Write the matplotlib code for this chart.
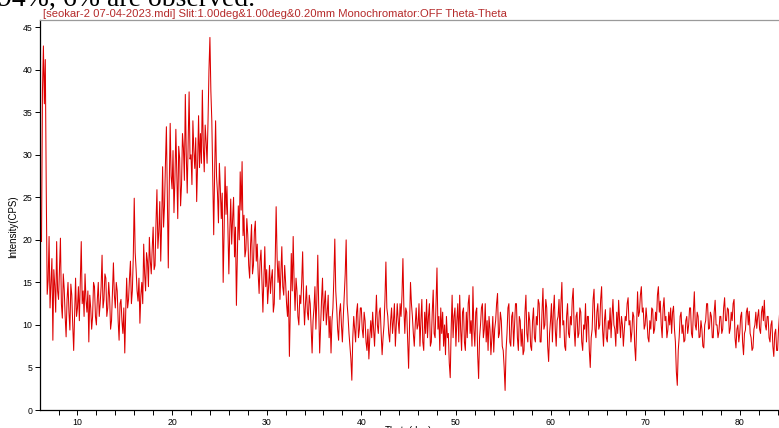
import numpy as np
import matplotlib
matplotlib.use("Agg")
import matplotlib.pyplot as plt
from matplotlib.ticker import MultipleLocator

# ---- data, one row per degree, 0.1 deg step ----
theta_start = 6.0
theta_step = 0.1
intensity = [
    21.8, 20.5, 19.8, 37.5, 42.8, 36.0, 41.2, 26.0, 13.6, 15.2,   # 6
    20.4, 12.0, 15.0, 17.8, 8.2, 16.5, 14.6, 11.5, 19.8, 14.0,    # 7
    13.0, 16.5, 20.2, 12.5, 10.8, 16.0, 14.2, 11.0, 8.6, 13.0,    # 8
    15.0, 11.5, 9.4, 14.8, 13.5, 10.0, 7.0, 11.5, 15.5, 11.0,     # 9
    12.0, 14.5, 10.5, 15.0, 19.8, 12.5, 14.0, 11.0, 16.0, 13.0,   # 10
    11.5, 14.0, 8.0, 13.5, 12.0, 9.5, 11.0, 15.0, 14.5, 11.0,     # 11
    10.0, 13.0, 15.0, 11.0, 12.5, 14.5, 18.2, 12.0, 13.0, 16.0,   # 12
    15.5, 11.0, 12.0, 15.0, 13.2, 9.5, 10.5, 14.0, 17.3, 13.5,    # 13
    12.0, 15.0, 14.0, 10.5, 8.2, 12.5, 13.0, 10.5, 9.0, 12.0,     # 14
    6.7, 11.5, 15.5, 12.0, 13.0, 15.5, 17.5, 12.5, 14.0, 18.0,    # 15
    24.9, 18.5, 16.5, 14.0, 12.8, 15.5, 10.2, 13.5, 15.0, 12.5,   # 16
    19.5, 16.0, 14.0, 18.5, 17.5, 14.5, 20.3, 17.5, 16.0, 19.0,   # 17
    21.5, 16.5, 17.0, 22.0, 25.9, 19.0, 21.0, 24.5, 17.5, 22.0,   # 18
    28.6, 21.5, 24.0, 29.0, 33.3, 25.0, 16.7, 26.0, 33.7, 27.5,   # 19
    26.0, 30.5, 23.2, 27.0, 33.0, 27.5, 22.5, 31.0, 29.6, 24.0,   # 20
    26.5, 32.5, 30.8, 27.0, 37.1, 30.0, 25.5, 31.5, 37.4, 29.5,   # 21
    30.0, 26.5, 34.0, 30.5, 28.4, 32.0, 24.5, 29.0, 34.6, 28.5,   # 22
    32.5, 29.0, 37.6, 31.0, 28.0, 33.5, 31.5, 29.0, 34.0, 40.0,   # 23
    43.8, 37.5, 34.0, 27.0, 20.6, 28.0, 34.0, 27.5, 25.5, 22.0,   # 24
    29.0, 26.0, 22.5, 25.5, 15.0, 21.0, 28.6, 23.0, 26.3, 21.5,   # 25
    16.0, 21.0, 24.8, 19.5, 22.5, 25.0, 18.0, 21.5, 12.3, 18.5,   # 26
    24.0, 20.0, 28.0, 23.5, 29.2, 20.5, 22.9, 18.0, 18.8, 22.5,   # 27
    20.6, 17.0, 15.5, 19.5, 21.8, 16.0, 17.0, 21.0, 22.2, 17.5,   # 28
    19.5, 16.0, 13.7, 17.5, 18.8, 15.0, 11.5, 15.5, 19.2, 14.5,   # 29
    16.5, 12.5, 14.5, 17.0, 13.7, 15.5, 16.5, 11.5, 12.5, 17.5,   # 30
    23.9, 18.0, 15.0, 17.5, 13.0, 16.0, 19.2, 14.5, 13.5, 17.0,   # 31
    15.0, 12.5, 11.0, 14.0, 6.3, 12.0, 18.4, 14.0, 20.4, 15.0,    # 32
    11.7, 15.5, 14.0, 11.0, 10.0, 13.5, 12.5, 15.0, 18.6, 13.0,   # 33
    10.0, 12.5, 14.6, 11.5, 10.6, 13.5, 12.5, 9.5, 6.7, 10.5,     # 34
    12.0, 14.5, 9.5, 13.0, 18.2, 12.0, 6.7, 10.0, 13.0, 15.5,     # 35
    10.5, 12.5, 14.0, 10.0, 11.5, 13.5, 8.5, 11.0, 6.7, 10.5,     # 36
    12.0, 15.5, 20.1, 14.0, 12.0, 9.5, 8.2, 11.5, 12.5, 10.0,     # 37
    8.0, 11.0, 13.5, 16.0, 20.0, 12.5, 11.0, 9.0, 7.5, 6.0,       # 38
    3.5, 8.5, 11.0, 9.5, 8.0, 11.5, 12.5, 8.5, 9.5, 12.0,         # 39
    12.0, 9.5, 8.5, 11.5, 10.5, 8.0, 7.0, 9.5, 6.0, 8.5,          # 40
    10.5, 8.5, 11.5, 9.5, 7.5, 10.5, 13.5, 10.0, 9.0, 11.5,       # 41
    12.0, 9.0, 6.5, 8.5, 10.0, 13.0, 17.4, 12.0, 11.0, 9.0,       # 42
    8.0, 10.5, 12.0, 9.0, 10.5, 12.5, 7.5, 10.0, 12.5, 10.5,      # 43
    9.0, 12.5, 11.0, 13.5, 17.8, 12.0, 9.0, 12.0, 11.5, 8.0,      # 44
    4.9, 10.0, 15.0, 12.5, 11.0, 9.0, 7.5, 10.0, 12.0, 9.5,       # 45
    10.0, 12.5, 7.5, 10.5, 13.0, 8.0, 7.0, 11.5, 9.0, 13.0,       # 46
    8.5, 11.0, 12.5, 7.5, 8.0, 11.5, 14.1, 9.0, 8.5, 12.5,        # 47
    16.7, 9.5, 11.0, 7.0, 12.0, 9.0, 11.5, 7.5, 10.0, 6.5,        # 48
    11.0, 8.5, 9.0, 5.5, 3.8, 9.5, 13.5, 8.5, 11.0, 12.0,         # 49
    7.5, 10.5, 12.5, 8.0, 13.5, 9.5, 7.0, 11.5, 12.0, 8.0,        # 50
    7.0, 11.5, 8.5, 12.5, 13.5, 9.0, 10.5, 7.5, 14.5, 9.5,        # 51
    7.5, 11.5, 12.0, 6.5, 3.7, 8.5, 10.0, 12.0, 12.5, 8.5,        # 52
    9.5, 12.5, 8.0, 10.5, 7.0, 11.0, 9.5, 6.5, 8.5, 11.0,         # 53
    6.8, 9.5, 10.5, 12.5, 13.7, 8.5, 9.0, 11.5, 10.5, 7.5,        # 54
    7.0, 5.0, 2.3, 7.0, 9.0, 12.0, 12.5, 8.0, 7.5, 11.0,          # 55
    11.5, 7.5, 10.0, 12.5, 12.5, 8.5, 7.0, 11.0, 10.5, 7.5,       # 56
    9.5, 6.5, 7.0, 11.5, 13.5, 9.0, 8.0, 11.5, 10.5, 7.5,         # 57
    7.0, 10.5, 12.0, 8.5, 8.0, 11.0, 10.0, 13.0, 12.5, 8.0,       # 58
    8.0, 11.5, 14.3, 9.5, 10.0, 13.0, 12.0, 7.5, 5.7, 9.0,        # 59
    10.5, 12.5, 8.0, 11.5, 13.5, 9.5, 7.5, 10.5, 11.0, 13.0,      # 60
    8.5, 12.5, 15.0, 10.0, 10.5, 7.5, 7.0, 11.0, 12.5, 9.0,       # 61
    8.5, 11.0, 10.0, 13.0, 14.3, 9.5, 7.5, 11.0, 11.5, 8.5,       # 62
    9.0, 12.0, 11.5, 8.0, 7.0, 10.0, 9.5, 12.5, 8.0, 11.0,        # 63
    11.0, 7.0, 5.0, 8.5, 9.5, 13.0, 14.2, 9.5, 8.5, 11.5,         # 64
    12.5, 9.5, 10.0, 13.0, 14.5, 9.5, 7.5, 10.5, 11.8, 8.5,       # 65
    8.0, 10.5, 9.5, 12.0, 8.5, 11.0, 13.0, 10.0, 9.5, 7.5,        # 66
    11.5, 9.0, 12.9, 10.5, 8.5, 11.0, 10.0, 7.5, 9.4, 11.0,       # 67
    10.5, 12.5, 13.2, 10.0, 10.5, 8.0, 9.2, 11.5, 11.0, 7.5,      # 68
    5.8, 10.0, 13.9, 11.0, 11.5, 13.5, 14.5, 11.5, 12.0, 9.5,     # 69
    10.0, 12.0, 10.5, 8.5, 8.0, 10.5, 9.5, 12.0, 11.8, 9.0,       # 70
    9.5, 11.5, 10.5, 13.5, 14.5, 11.5, 12.8, 10.0, 8.5, 12.0,     # 71
    13.2, 10.5, 11.0, 8.5, 9.4, 11.5, 10.0, 12.0, 9.0, 11.5,      # 72
    12.2, 9.5, 8.0, 4.5, 2.9, 7.0, 8.6, 11.0, 11.5, 9.0,          # 73
    10.0, 8.0, 8.2, 10.5, 11.0, 9.0, 10.0, 12.0, 12.0, 9.0,       # 74
    8.5, 11.5, 13.9, 10.0, 9.4, 11.5, 11.0, 8.5, 8.6, 10.5,       # 75
    9.5, 7.5, 7.3, 10.0, 10.5, 12.5, 12.5, 9.5, 9.6, 11.5,        # 76
    11.0, 8.5, 8.5, 11.5, 12.9, 10.0, 10.0, 8.5, 9.2, 11.0,       # 77
    11.0, 9.0, 9.5, 12.0, 13.2, 10.5, 10.5, 12.0, 11.8, 9.0,      # 78
    9.6, 11.5, 10.5, 12.5, 13.0, 8.5, 7.3, 9.5, 10.0, 8.0,        # 79
    9.0, 11.0, 11.5, 8.0, 6.5, 9.0, 9.4, 11.5, 12.0, 10.0,        # 80
    11.6, 9.0, 8.5, 7.0, 7.3, 9.5, 10.0, 11.5, 9.6, 11.0,         # 81
    11.8, 9.5, 9.0, 11.5, 12.2, 10.5, 12.9, 10.0, 9.4, 11.0,      # 82
    11.0, 8.5, 8.0, 10.0, 10.5, 7.5, 6.3, 9.0, 9.5, 7.0,          # 83
    7.0, 9.5, 11.2, 6.5, 4.5,                                     # 84
]
theta = theta_start + theta_step * np.arange(len(intensity))

title_text = "[seokar-2 07-04-2023.mdi] Slit:1.00deg&1.00deg&0.20mm Monochromator:OFF Theta-Theta"
xlabel_text = "Theta(deg)"
ylabel_text = "Intensity(CPS)"
doc_text = "94%, 6% are observed."

W, H = 779, 428
fig = plt.figure(figsize=(W / 100, H / 100), dpi=100)
fig.patch.set_facecolor("white")

ax = fig.add_axes([40 / W, 1 - 410 / H, (779 - 40) / W, (410 - 20) / H])
ax.plot(theta, intensity, color="#dd0000", lw=0.75)

ax.set_xlim(6.04, 84.15)
ax.set_ylim(0, 45.85)

ax.xaxis.set_major_locator(MultipleLocator(10))
ax.xaxis.set_minor_locator(MultipleLocator(2))
ax.yaxis.set_major_locator(MultipleLocator(5))

ax.spines["right"].set_visible(False)
ax.spines["top"].set_color("#9a9a9a")
ax.spines["top"].set_linewidth(0.9)
ax.spines["left"].set_linewidth(0.9)
ax.spines["bottom"].set_linewidth(0.9)

ax.tick_params(axis="both", which="both", direction="out", length=3.5, width=0.7,
               labelsize=6.3, colors="black", pad=2)
for lab in ax.get_xticklabels() + ax.get_yticklabels():
    lab.set_fontfamily("Liberation Sans")

ax.set_ylabel(ylabel_text, fontsize=7, family="Liberation Sans")
ax.yaxis.set_label_coords(-22 / (779 - 40), 0.47)
fig.text(408 / W, 1 - 431 / H, xlabel_text, fontsize=7, family="Liberation Sans",
         ha="center", va="center")

fig.text(43 / W, 1 - 14 / H, title_text, fontsize=8.1, family="Liberation Sans",
         color="#b52a2a", ha="left", va="center")

fig.text(-2 / W, 1 - 6 / H, doc_text, fontsize=20, family="Liberation Serif",
         color="black", ha="left", va="baseline")

fig.savefig("out.png", dpi=100, facecolor="white")
